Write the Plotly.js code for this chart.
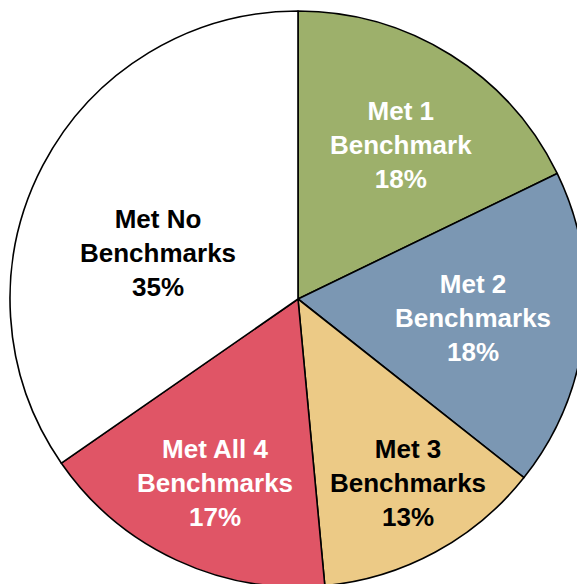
<!DOCTYPE html>
<html>
<head>
<meta charset="utf-8">
<script src="https://cdn.plot.ly/plotly-3.0.1.min.js"></script>
<style>
  html, body { margin: 0; padding: 0; background: #ffffff; overflow: hidden; }
  #chart { width: 600px; height: 600px; }
</style>
</head>
<body>
<div id="chart"></div>
<script>
// ---- data ----
const categories = ["Met 1 Benchmark", "Met 2 Benchmarks", "Met 3 Benchmarks", "Met All 4 Benchmarks", "Met No Benchmarks"];
const shares = [18, 18, 13, 17, 35];
const sliceLabels = ["Met 1<br>Benchmark", "Met 2<br>Benchmarks", "Met 3<br>Benchmarks", "Met All 4<br>Benchmarks", "Met No<br>Benchmarks"];

// ---- styling / label placement (not data) ----
const sliceColors = ["#9db06b", "#7b97b3", "#ecca86", "#e05566", "#ffffff"];
const textColors = ["#ffffff", "#ffffff", "#000000", "#ffffff", "#000000"];
const labelRadius = [0.643, 0.611, 0.744, 0.701, 0.512];   // fraction of pie radius
const labelAngleNudge = [1.7, 0, -2.4, -0.7, -9.4];         // degrees vs. slice middle

const trace = {
  type: "pie",
  values: shares,
  labels: categories,
  textinfo: "none",
  sort: false,
  direction: "clockwise",
  rotation: 0,
  hoverinfo: "label+percent",
  marker: { colors: sliceColors, line: { color: "#000000", width: 1.6 } },
  showlegend: false
};

// label positions derived from the slice angles
const total = shares.reduce((a, b) => a + b, 0);
let cum = 0;
const annotations = shares.map((v, i) => {
  const mid = (cum + v / 2) / total * 360;
  cum += v;
  const th = (mid + labelAngleNudge[i]) * Math.PI / 180;
  return {
    xref: "paper", yref: "paper",
    x: 0.5 + 0.5 * labelRadius[i] * Math.sin(th),
    y: 0.5 + 0.5 * labelRadius[i] * Math.cos(th),
    xanchor: "center", yanchor: "middle",
    showarrow: false,
    align: "center",
    text: sliceLabels[i] + "<br>" + v + "%",
    font: { family: "Liberation Sans, Arial, Helvetica, sans-serif", size: 26, color: textColors[i], weight: "bold" }
  };
});

const layout = {
  width: 600,
  height: 600,
  margin: { l: 10, r: 14, t: 11, b: 13 },
  paper_bgcolor: "#ffffff",
  showlegend: false,
  annotations: annotations
};

Plotly.newPlot("chart", [trace], layout, { staticPlot: true, displayModeBar: false });
</script>
</body>
</html>
